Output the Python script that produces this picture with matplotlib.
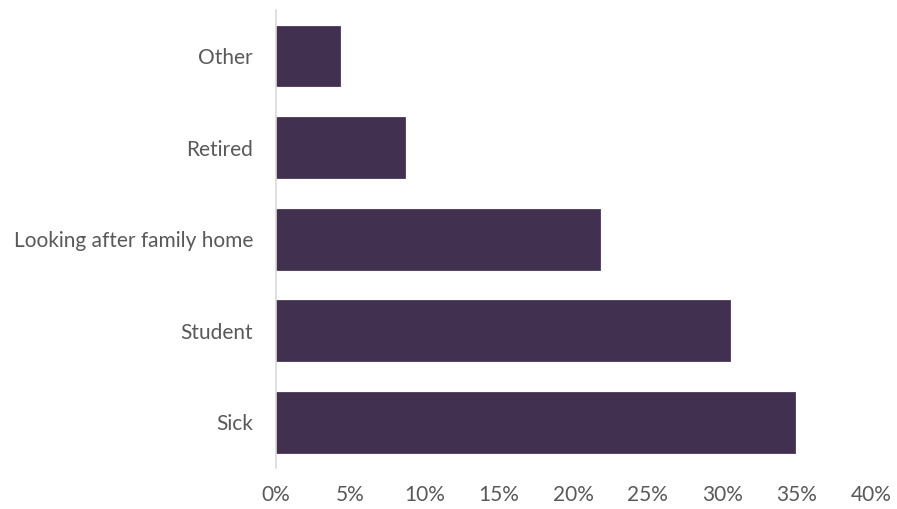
import matplotlib
matplotlib.use("Agg")
import matplotlib.pyplot as plt
from matplotlib.ticker import FuncFormatter

categories = ["Sick", "Student", "Looking after family home", "Retired", "Other"]
values = [34.9, 30.5, 21.8, 8.7, 4.3]
xticks = [0, 5, 10, 15, 20, 25, 30, 35, 40]

plt.rcParams['font.family'] = ['Lato', 'DejaVu Sans']

fig = plt.figure(figsize=(8.97, 5.09), dpi=100)
ax = fig.add_axes([0.3077, 0.0806, 0.971 - 0.3077, 0.980 - 0.0806])

ax.barh(range(len(categories)), values, height=0.665, color="#41304f",
        edgecolor="#4a3a5a", linewidth=0.6)
ax.set_yticks(range(len(categories)))
ax.set_yticklabels(categories)
ax.set_ylim(-0.5, 4.5)
ax.set_xlim(0, 40)
ax.set_xticks(xticks)
ax.xaxis.set_major_formatter(FuncFormatter(lambda v, p: f"{int(v)}%"))

for s in ["top", "right", "bottom"]:
    ax.spines[s].set_visible(False)
ax.spines["left"].set_color("#d9d9d9")
ax.spines["left"].set_linewidth(1.2)

ax.tick_params(axis="both", length=0, labelsize=15, colors="#595959")
ax.tick_params(axis="y", pad=16.5)
ax.tick_params(axis="x", pad=12)

fig.savefig("out.png", dpi=100, facecolor="white")
